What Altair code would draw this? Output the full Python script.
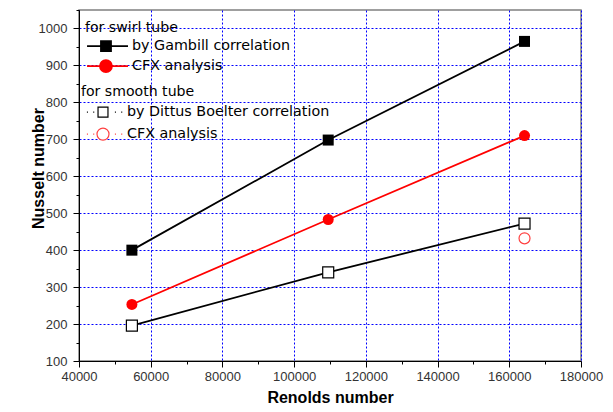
import altair as alt
import pandas as pd

# ---- data ----
reynolds = [54750, 109500, 164250]
gambill = [400, 698, 965]
cfx_swirl = [253, 483, 710]
dittus = [196, 340, 472]
cfx_smooth_re = [164250]
cfx_smooth = [432]

swirl_names = ["by Gambill correlation", "CFX analysis"]
smooth_names = ["by Dittus Boelter correlation", "CFX analysis"]

x_ticks = list(range(40000, 180001, 10000))
y_ticks = list(range(100, 1051, 50))

swirl_df = pd.DataFrame({
    "series": [swirl_names[0]] * 3 + [swirl_names[1]] * 3,
    "re": reynolds + reynolds,
    "nu": gambill + cfx_swirl,
})
smooth_df = pd.DataFrame({
    "series": [smooth_names[0]] * 3 + [smooth_names[1]] * len(cfx_smooth),
    "re": reynolds + cfx_smooth_re,
    "nu": dittus + cfx_smooth,
})

FONT = "Liberation Sans"
LEGEND_FONT = "DejaVu Sans"

x_axis = alt.Axis(
    title="Renolds number", values=x_ticks,
    labelExpr="datum.value % 20000 === 0 ? format(datum.value, 'd') : ''",
    tickSize={"condition": {"test": "datum.value % 20000 === 0", "value": 6}, "value": 3},
    gridOpacity={"condition": {"test": "datum.value % 20000 === 0", "value": 1}, "value": 0},
    grid=True, gridColor="#0000ff", gridDash=[2, 2], gridWidth=1,
    tickColor="black", domainColor="black", labelColor="#333333",
    labelFont=FONT, labelFontSize=13, labelPadding=3, labelFlush=False,
    titleFont=FONT, titleFontSize=16, titleFontWeight="bold", titleColor="black",
    titleX=251, titleY=41, titleBaseline="alphabetic",
)
y_axis = alt.Axis(
    title="Nusselt number", values=y_ticks,
    labelExpr="datum.value % 100 === 0 ? format(datum.value, 'd') : ''",
    tickSize={"condition": {"test": "datum.value % 100 === 0", "value": 6}, "value": 3},
    gridOpacity={"condition": {"test": "datum.value % 100 === 0", "value": 1}, "value": 0},
    grid=True, gridColor="#0000ff", gridDash=[2, 2], gridWidth=1,
    tickColor="black", domainColor="black", labelColor="#333333",
    labelFont=FONT, labelFontSize=13, labelPadding=6, labelFlush=False,
    titleFont=FONT, titleFontSize=16, titleFontWeight="bold", titleColor="black",
    titleX=-36, titleY=158, titleBaseline="alphabetic",
)

x_enc = alt.X("re:Q", scale=alt.Scale(domain=[40000, 180000], nice=False, zero=False), axis=x_axis)
y_enc = alt.Y("nu:Q", scale=alt.Scale(domain=[100, 1050], nice=False, zero=False), axis=y_axis)

# legend symbols: line segment with the marker in its middle (unit = 7px)
swirl_paths = [
    "M-0.85,0H5M1.14,-0.71H2.57V0.71H1.14Z",
    "M-0.85,0H5M2.71,0A0.86,0.86 0 1,1 0.99,0A0.86,0.86 0 1,1 2.71,0Z",
]
smooth_paths = [
    "M-0.3,0h0.15M0.6,0h0.15M1.29,-0.71H2.71V0.71H1.29ZM3.7,0h0.15M4.6,0h0.15",
    "M-0.3,0h0.15M0.6,0h0.15M2.86,0A0.86,0.86 0 1,1 1.14,0A0.86,0.86 0 1,1 2.86,0ZM3.7,0h0.15M4.6,0h0.15",
]

common_legend = dict(
    orient="none", symbolSize=196, padding=0,
    labelFontSize=14.3, titleFontSize=14.1, titleFontWeight="normal",
    labelFont=LEGEND_FONT, titleFont=LEGEND_FONT, labelColor="black", titleColor="black",
    symbolOpacity=1, labelLimit=400, titleLimit=400,
)
swirl_legend = alt.Legend(title="for swirl tube", legendX=6, legendY=11, symbolStrokeWidth=1.8,
                          labelOffset=31, titlePadding=3, rowPadding=1, **common_legend)
smooth_legend = alt.Legend(title="for smooth tube", legendX=2, legendY=75, symbolStrokeWidth=1.2,
                           labelOffset=30, titlePadding=5, rowPadding=5, **common_legend)


def series_marks(df, name, color, shape, filled):
    base = alt.Chart(df).transform_filter(alt.datum.series == name)
    line = base.mark_line(color=color, strokeWidth=1.8).encode(x=x_enc, y=y_enc)
    if filled:
        pts = base.mark_point(shape=shape, filled=True, color=color, size=121, opacity=1)
    else:
        pts = base.mark_point(shape=shape, filled=False, fill="white", stroke=color,
                              size=121, opacity=1, strokeWidth=1.2)
    return [line, pts.encode(x=x_enc, y=y_enc)]


def legend_layer(df, names, paths, fills, strokes, legend):
    return alt.Chart(df).mark_point(opacity=0).encode(
        x=x_enc, y=y_enc,
        fill=alt.Fill("series:N", scale=alt.Scale(domain=names, range=fills), legend=legend),
        stroke=alt.Stroke("series:N", scale=alt.Scale(domain=names, range=strokes), legend=legend),
        shape=alt.Shape("series:N", scale=alt.Scale(domain=names, range=paths), legend=legend),
    )


swirl = alt.layer(
    *series_marks(swirl_df, swirl_names[0], "black", "square", True),
    *series_marks(swirl_df, swirl_names[1], "red", "circle", True),
    legend_layer(swirl_df, swirl_names, swirl_paths, ["black", "red"], ["black", "red"], swirl_legend),
)
smooth = alt.layer(
    *series_marks(smooth_df, smooth_names[0], "black", "square", False),
    *series_marks(smooth_df, smooth_names[1], "#ff4040", "circle", False),
    legend_layer(smooth_df, smooth_names, smooth_paths, ["white", "white"], ["black", "#ff4040"], smooth_legend),
)

chart = alt.layer(swirl, smooth).resolve_scale(
    fill="independent", stroke="independent", shape="independent"
).properties(
    width=502, height=351,
    autosize=alt.AutoSizeParams(type="none"),
    padding={"left": 71, "top": 2, "right": 24, "bottom": 43},
    background="white",
).configure_view(stroke="#808080", strokeWidth=1.5)

chart.save("out.html", embed_options={"renderer": "svg", "actions": False})
